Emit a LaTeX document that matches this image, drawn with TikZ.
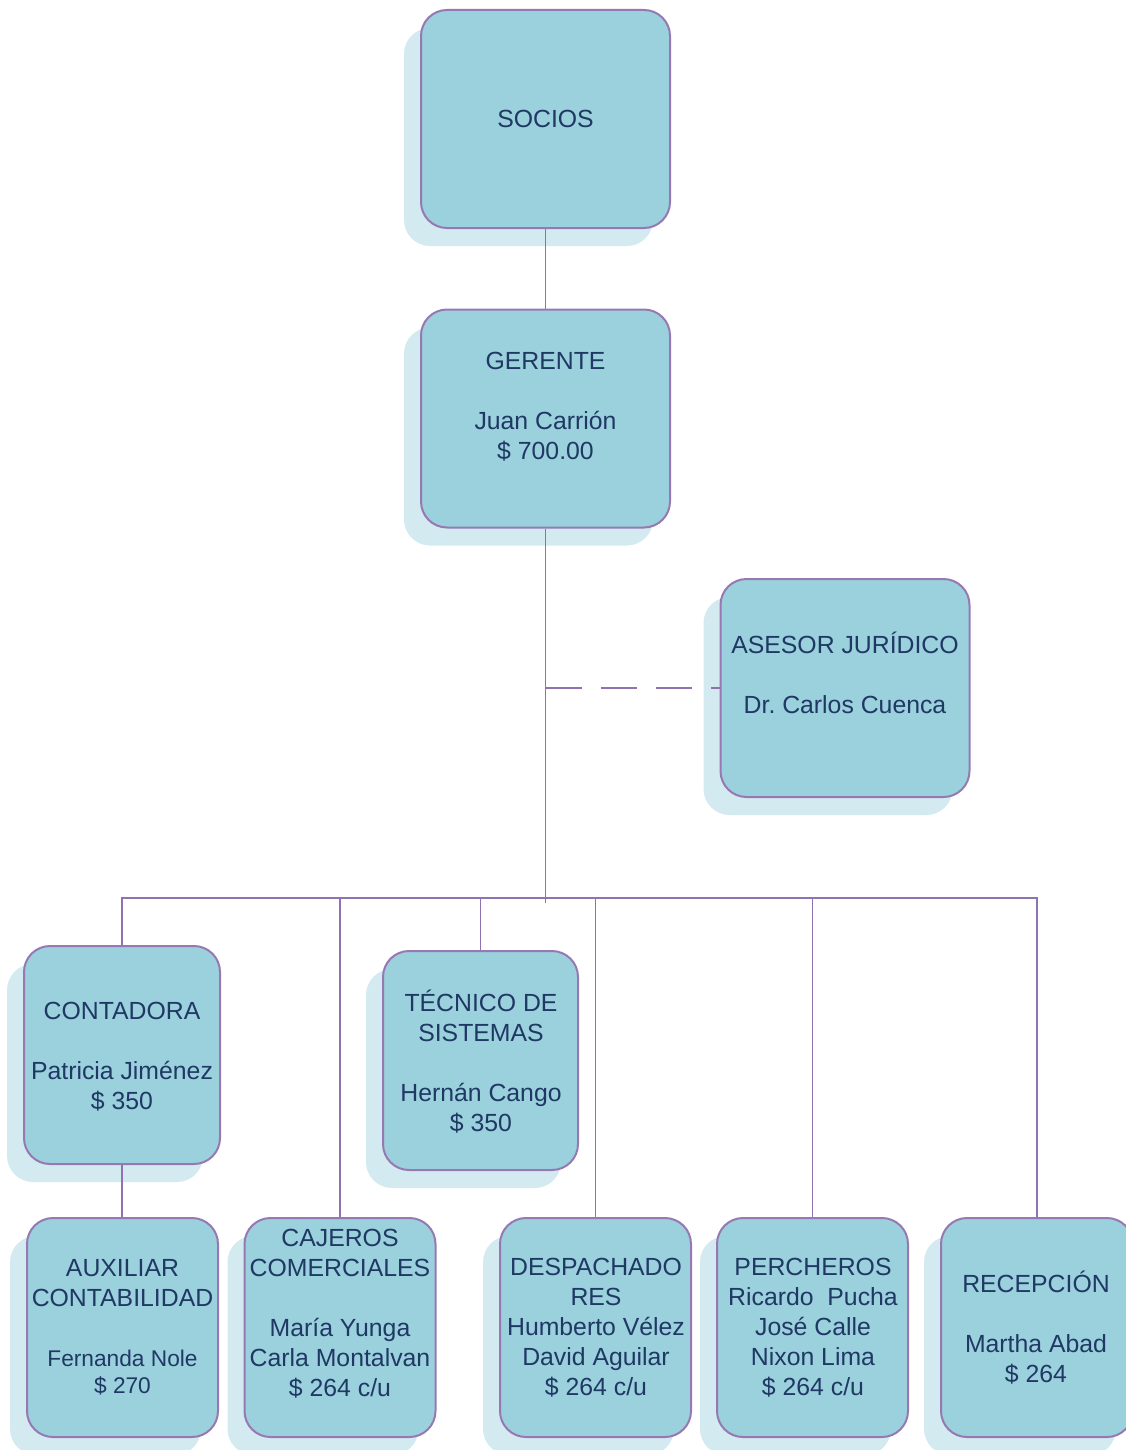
\documentclass[tikz,border=0pt]{standalone}
\usepackage{fontspec}
\setmainfont{Liberation Sans}
\usetikzlibrary{shadows}
\definecolor{boxfill}{RGB}{155,208,221}
\definecolor{boxshade}{RGB}{211,234,240}
\definecolor{boxline}{RGB}{150,121,178}
\definecolor{linkline}{RGB}{143,114,176}
\definecolor{inktext}{RGB}{31,56,100}
\begin{document}
\begin{tikzpicture}[x=1pt,y=-1pt,
  unit/.style={draw=boxline, line width=2pt, fill=boxfill, rounded corners=26pt,
    inner sep=0pt, general shadow={fill=boxshade, shadow xshift=-17pt, shadow yshift=-18pt}},
  wide/.style={unit, minimum width=249pt, minimum height=218pt},
  narrow/.style={unit, minimum width=191pt, minimum height=219pt},
  caption/.style={font=\fontsize{24.8}{30}\selectfont, text=inktext, align=center,
    inner sep=0pt, execute at begin node=\strut, execute at end node=\strut},
  link/.style={draw=linkline, line width=1.3pt},
  mainlink/.style={draw=linkline, line width=1.9pt},
]
\useasboundingbox (0,0) rectangle (1126,1450);

% boxes
\node[wide] (socios) at (545.5,119) {};
\node[wide] (gerente) at (545.5,418.5) {};
\node[wide] (asesor) at (845,688) {};
\node[unit, minimum width=196pt, minimum height=218pt] (conta) at (122,1055) {};
\node[unit, minimum width=195pt, minimum height=219pt] (tecnico) at (480.5,1060.5) {};
\node[narrow] (aux) at (122.5,1327.5) {};
\node[narrow] (cajeros) at (340,1327.5) {};
\node[narrow] (despacho) at (595.5,1327.5) {};
\node[narrow] (percheros) at (812.5,1327.5) {};
\node[unit, minimum width=192pt, minimum height=219pt] (recep) at (1037,1327.5) {};

% box texts
\node[caption] (socios-t) at (545.5,121.5) {SOCIOS};
\node[caption] (gerente-t) at (545.5,410) {GERENTE\\[30pt]Juan Carrión\\\$ 700.00};
\node[caption] (asesor-t) at (845,677.5) {ASESOR JURÍDICO\\[30pt]Dr.\ Carlos Cuenca};
\node[caption] (conta-t) at (122,1060.5) {CONTADORA\\[30pt]Patricia Jiménez\\\$ 350};
\node[caption] (tecnico-t) at (481,1065) {TÉCNICO DE\\SISTEMAS\\[30pt]Hernán Cango\\\$ 350};
\node[caption] (aux-t) at (122.5,1331) {AUXILIAR\\CONTABILIDAD\\[30pt]{\fontsize{22.7}{27}\selectfont Fernanda Nole}\\[-3pt]{\fontsize{22.7}{27}\selectfont \$ 270}};
\node[caption] (cajeros-t) at (340,1317.5) {CAJEROS\\COMERCIALES\\[30pt]María Yunga\\Carla Montalvan\\\$ 264 c/u};
\node[caption] (despacho-t) at (596,1331) {DESPACHADO\\RES\\Humberto Vélez\\David Aguilar\\\$ 264 c/u};
\node[caption] (percheros-t) at (813,1331) {PERCHEROS\\Ricardo\ \ Pucha\\José Calle\\Nixon Lima\\\$ 264 c/u};
\node[caption] (recep-t) at (1036,1331) {RECEPCIÓN\\[30pt]Martha Abad\\\$ 264};

% connectors
\coordinate (bus) at (545.5,898);
\coordinate (trunk-end) at (545.5,903);
\draw[mainlink] (socios) -- (gerente);
\draw[mainlink] (gerente.south) -- (trunk-end);
\draw[link, dash pattern=on 36pt off 19pt] (gerente.south |- asesor.west) -- (asesor.west);
\foreach \n in {conta,tecnico,cajeros,despacho,percheros,recep}
  \draw[link] (\n.north) |- (bus);
\draw[link] (conta.south) -- (conta.south |- aux.north);
\end{tikzpicture}
\end{document}
